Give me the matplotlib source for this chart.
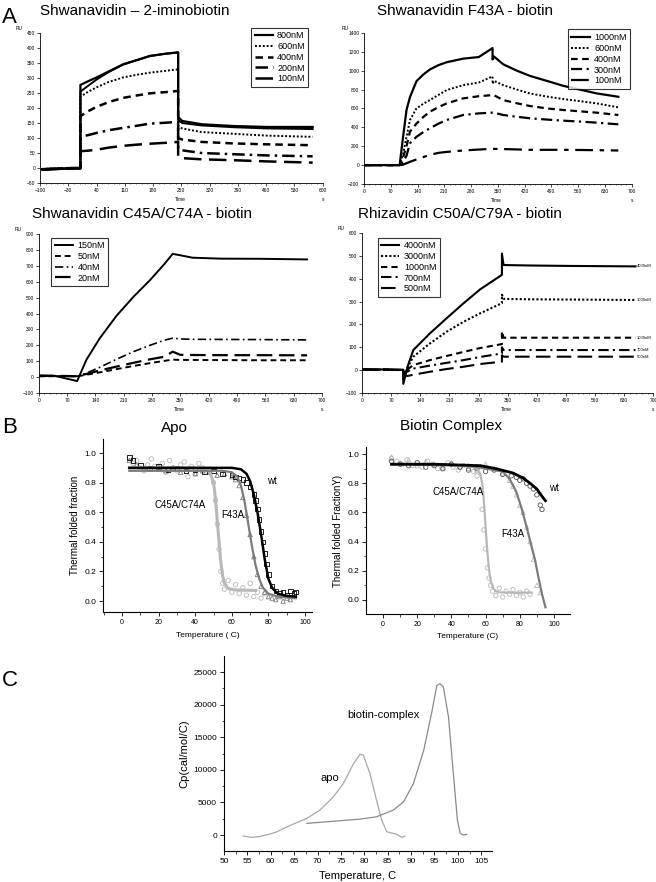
import numpy as np
import matplotlib
matplotlib.use('Agg')
import matplotlib.pyplot as plt
from matplotlib.ticker import MultipleLocator

plt.rcParams['font.family'] = ['Liberation Sans', 'DejaVu Sans']

# ---------------- A: SPR sensorgrams ----------------
a1_t = [-95, -60, -20, 0, 0, 20, 40, 70, 106, 140, 172, 210, 242, 242, 252, 300, 380, 462, 575]
a1_800 = [-4, -2, 0, 0, 277, 290, 302, 322, 346, 360, 374, 381, 386, 170, 157, 146, 140, 137, 137]
a1_800b = [-6, -4, -2, -2, 255, 275, 295, 320, 345, 360, 373, 381, 385, 160, 150, 142, 136, 132, 130]
a1_600 = [-3, -1, 0, 0, 238, 255, 269, 287, 302, 311, 318, 324, 329, 140, 132, 120, 114, 108, 104]
a1_400 = [-5, -3, -1, -1, 173, 190, 204, 220, 234, 242, 249, 253, 257, 100, 95, 87, 82, 79, 76]
a1_200 = [-4, -2, 0, 0, 104, 110, 117, 126, 134, 141, 148, 151, 154, 65, 59, 50, 46, 42, 39]
a1_100 = [-6, -3, -1, -1, 56, 58, 61, 68, 74, 78, 81, 84, 87, 36, 33, 29, 26, 22, 18]
a1_labels = ['800nM', '600nM', '400nM', '200nM', '100nM']

a2_t = [0, 60, 93, 102, 111, 120, 137, 155, 172, 195, 216, 259, 300, 336, 336, 340, 364, 400, 434, 480, 521, 570, 608, 665]
a2_1000 = [0, 0, 0, 300, 584, 720, 889, 960, 1013, 1060, 1090, 1128, 1145, 1240, 1120, 1150, 1068, 1000, 945, 890, 840, 795, 760, 724]
a2_600 = [0, 0, 0, 120, 300, 478, 601, 650, 689, 745, 795, 847, 875, 940, 860, 893, 847, 800, 759, 725, 700, 675, 654, 612]
a2_400 = [0, 0, 0, 80, 200, 355, 440, 510, 566, 615, 654, 707, 730, 742, 742, 740, 689, 655, 626, 600, 584, 568, 556, 531]
a2_300 = [0, 0, 0, 30, 100, 232, 300, 350, 390, 440, 478, 531, 548, 556, 556, 555, 531, 512, 496, 482, 471, 460, 450, 432]
a2_100 = [0, 0, 0, 5, 20, 35, 60, 85, 109, 130, 140, 155, 165, 173, 173, 172, 170, 166, 162, 162, 162, 160, 158, 155]
a2_labels = ['1000nM', '600nM', '400nM', '300nM', '100nM']

a3_t = [0, 40, 95, 118, 151, 192, 234, 275, 310, 331, 350, 380, 450, 550, 663]
a3_150 = [8, 8, -25, 110, 245, 385, 505, 610, 710, 775, 766, 751, 745, 744, 740]
a3_50 = [5, 6, 5, 15, 30, 50, 70, 88, 102, 110, 108, 108, 107, 106, 106]
a3_40 = [6, 5, 5, 25, 62, 112, 160, 200, 232, 245, 240, 238, 237, 236, 234]
a3_20 = [10, 8, 6, 20, 42, 66, 90, 112, 128, 160, 140, 139, 138, 138, 137]
a3_labels = ['150nM', '50nM', '40nM', '20nM']

a4_t = [0, 60, 99, 99, 110, 123, 163, 203, 244, 284, 336, 336, 340, 400, 500, 657]
a4_4000 = [4, 3, 2, -60, 20, 88, 161, 227, 293, 354, 417, 510, 460, 458, 456, 454]
a4_3000 = [3, 2, 1, -40, 15, 59, 117, 168, 212, 249, 293, 330, 312, 310, 309, 307]
a4_1000 = [2, 2, 0, -20, 5, 22, 44, 62, 80, 97, 114, 170, 142, 142, 142, 142]
a4_700 = [3, 2, 1, -15, -5, 7, 20, 32, 44, 58, 73, 100, 88, 88, 88, 88]
a4_500 = [2, 2, 0, -25, -25, -20, -7, 5, 15, 27, 37, 65, 59, 59, 59, 59]
a4_labels = ['4000nM', '3000nM', '1000nM', '700nM', '500nM']

# ---------------- B: thermal unfolding ----------------
b1_c45_x = [4, 6, 8, 10, 12, 14, 16, 18, 20, 22, 24, 26, 28, 30, 32, 34, 36, 38, 40, 42, 44, 46, 48, 50, 51, 52, 53, 54, 55, 56, 58, 60, 62, 64, 66, 68, 70, 72, 74, 76, 78]
b1_c45_y = [0.97, 0.93, 0.95, 0.90, 0.88, 0.92, 0.96, 0.91, 0.89, 0.93, 0.87, 0.95, 0.90, 0.88, 0.92, 0.94, 0.84, 0.91, 0.86, 0.93, 0.90, 0.88, 0.87, 0.80, 0.68, 0.52, 0.35, 0.20, 0.12, 0.08, 0.14, 0.06, 0.11, 0.05, 0.09, 0.04, 0.12, 0.03, 0.06, 0.02, 0.05]
b1_f43_x = [4, 8, 12, 16, 20, 24, 28, 32, 36, 40, 44, 48, 52, 56, 60, 62, 64, 66, 68, 70, 72, 74, 76, 78, 80, 82, 84, 86, 88, 90, 92, 94]
b1_f43_y = [0.95, 0.92, 0.90, 0.89, 0.91, 0.88, 0.90, 0.87, 0.89, 0.86, 0.88, 0.87, 0.85, 0.86, 0.84, 0.82, 0.78, 0.70, 0.58, 0.45, 0.30, 0.18, 0.10, 0.06, 0.03, 0.02, 0.01, 0.03, 0.00, 0.02, 0.01, 0.03]
b1_wt_x = [4, 6, 10, 15, 20, 25, 30, 35, 40, 45, 50, 55, 60, 62, 64, 66, 68, 70, 72, 73, 74, 75, 76, 77, 78, 79, 80, 82, 84, 86, 88, 90, 92, 94, 95]
b1_wt_y = [0.97, 0.95, 0.92, 0.90, 0.91, 0.89, 0.90, 0.88, 0.89, 0.87, 0.88, 0.86, 0.85, 0.84, 0.83, 0.82, 0.80, 0.77, 0.72, 0.68, 0.62, 0.55, 0.47, 0.40, 0.32, 0.25, 0.18, 0.10, 0.07, 0.05, 0.06, 0.04, 0.07, 0.05, 0.06]
b1_c45_fx = [4, 20, 40, 46, 48, 50, 51, 52, 53, 54, 55, 56, 58, 62, 68, 73]
b1_c45_fy = [0.9, 0.9, 0.9, 0.89, 0.87, 0.80, 0.70, 0.55, 0.40, 0.26, 0.17, 0.12, 0.085, 0.075, 0.073, 0.072]
b1_f43_fx = [4, 30, 55, 60, 63, 65, 67, 69, 71, 73, 75, 77, 80, 85, 95]
b1_f43_fy = [0.88, 0.88, 0.88, 0.87, 0.84, 0.78, 0.67, 0.52, 0.37, 0.24, 0.15, 0.09, 0.05, 0.03, 0.02]
b1_wt_fx = [4, 30, 60, 65, 68, 70, 72, 74, 76, 78, 80, 82, 85, 90, 95]
b1_wt_fy = [0.9, 0.9, 0.9, 0.89, 0.86, 0.81, 0.72, 0.60, 0.45, 0.28, 0.15, 0.09, 0.05, 0.035, 0.03]

b2_c45_x = [5, 8, 11, 14, 17, 20, 23, 26, 29, 32, 35, 38, 41, 44, 47, 50, 53, 55, 57, 58, 59, 60, 61, 62, 63, 64, 66, 68, 70, 72, 74, 76, 78, 80, 82, 84, 86]
b2_c45_y = [0.97, 0.95, 0.93, 0.96, 0.92, 0.94, 0.91, 0.95, 0.93, 0.90, 0.92, 0.94, 0.91, 0.89, 0.92, 0.90, 0.88, 0.85, 0.75, 0.62, 0.48, 0.35, 0.22, 0.15, 0.10, 0.06, 0.03, 0.08, 0.02, 0.06, 0.04, 0.07, 0.03, 0.05, 0.02, 0.06, 0.04]
b2_f43_x = [5, 10, 15, 20, 25, 30, 35, 40, 45, 50, 55, 60, 65, 70, 74, 76, 78, 80, 82, 84, 86, 88, 90, 92]
b2_f43_y = [0.98, 0.94, 0.96, 0.92, 0.95, 0.93, 0.90, 0.94, 0.91, 0.92, 0.89, 0.93, 0.90, 0.87, 0.82, 0.78, 0.72, 0.65, 0.60, 0.50, 0.40, 0.28, 0.10, 0.05]
b2_wt_x = [5, 10, 15, 20, 25, 30, 35, 40, 45, 50, 55, 60, 65, 70, 75, 78, 80, 82, 84, 86, 88, 90, 92, 93]
b2_wt_y = [0.95, 0.93, 0.92, 0.94, 0.91, 0.92, 0.90, 0.93, 0.91, 0.89, 0.90, 0.88, 0.89, 0.86, 0.85, 0.84, 0.82, 0.83, 0.80, 0.78, 0.76, 0.72, 0.65, 0.62]
b2_wt_fx = [5, 30, 57, 66, 76, 82, 86, 90, 93, 95]
b2_wt_fy = [0.93, 0.93, 0.92, 0.90, 0.87, 0.835, 0.80, 0.76, 0.71, 0.68]
b2_c45_fx = [5, 30, 50, 55, 57, 58, 59, 60, 61, 62, 63, 64.5, 66, 68, 75, 87]
b2_c45_fy = [0.93, 0.93, 0.92, 0.90, 0.86, 0.80, 0.68, 0.50, 0.33, 0.21, 0.13, 0.08, 0.06, 0.052, 0.05, 0.05]
b2_f43_fx = [5, 50, 70, 74, 78, 81, 84, 87, 89, 91, 93, 95]
b2_f43_fy = [0.93, 0.92, 0.88, 0.83, 0.74, 0.63, 0.50, 0.36, 0.27, 0.15, 0.04, -0.05]

# ---------------- C: DSC ----------------
c_apo_t = [54.1, 55.9, 57.5, 59.8, 61.3, 63, 64.8, 67.7, 70.5, 73.4, 75.5, 77.7, 79.1, 79.8, 81.2, 82.6, 83.7, 84.8, 86.2, 86.9, 88, 88.7]
c_apo_cp = [-150, -350, -250, 150, 500, 1100, 1680, 2550, 3830, 5870, 7900, 10970, 12400, 12250, 9440, 5360, 2300, 510, 250, 150, -350, -150]
c_bio_t = [67.7, 72, 79.1, 82.6, 86.2, 88.4, 90.5, 92.7, 94.5, 95.5, 96.2, 96.9, 98, 99.1, 99.9, 100.5, 101.2, 101.9]
c_bio_cp = [1790, 2040, 2450, 2800, 3830, 5100, 7900, 13000, 19100, 22960, 23200, 22700, 18100, 8900, 2300, 250, 0, 100]

LS = {'solid': '-', 'dot': (0, (1, 1)), 'dash': (0, (3, 2)), 'dashdot': (0, (5, 2, 1, 2)),
      'long': (0, (7, 3)), 'longdd': (0, (8, 3, 2, 3))}


def kin_axes(ax, xlim, ylim, xstep, ystep):
    ax.set_xlim(*xlim)
    ax.set_ylim(*ylim)
    ax.set_xticks(np.arange(xlim[0], xlim[1] + 1, xstep))
    ax.set_xticks(np.arange(xlim[0], xlim[1] + 1, xstep / 5.0), minor=True)
    ax.yaxis.set_major_locator(MultipleLocator(ystep))
    for s in ['top', 'right']:
        ax.spines[s].set_visible(False)
    for s in ['left', 'bottom']:
        ax.spines[s].set_linewidth(0.6)
    ax.tick_params(which='major', length=2, width=0.5, labelsize=3.5, pad=1.5)
    ax.tick_params(which='minor', length=1, width=0.4)
    ax.text(-0.085, 1.02, 'RU', transform=ax.transAxes, fontsize=3.5)
    ax.text(0.495, -0.09, 'Time', transform=ax.transAxes, fontsize=3.5, ha='center', va='top')
    ax.text(1.0, -0.09, 's', transform=ax.transAxes, fontsize=3.5, ha='center', va='top')


def kin_legend(ax, loc, anchor):
    leg = ax.legend(loc=loc, bbox_to_anchor=anchor, fontsize=6.5, frameon=True, fancybox=False,
                    edgecolor='black', handlelength=2.0, labelspacing=0.2, borderpad=0.4,
                    handletextpad=0.5)
    leg.get_frame().set_linewidth(0.8)


fig = plt.figure(figsize=(6.56, 8.82), dpi=100)

# A1
ax = fig.add_axes([0.061, 0.7925, 0.431, 0.170])
ax.plot(a1_t, a1_800, color='k', ls=LS['solid'], lw=1.6, label=a1_labels[0])
ax.plot(a1_t, a1_800b, color='k', ls=LS['solid'], lw=1.4)
ax.plot(a1_t, a1_600, color='k', ls=LS['dot'], lw=1.4, label=a1_labels[1])
ax.plot(a1_t, a1_400, color='k', ls=LS['dash'], lw=1.8, label=a1_labels[2])
ax.plot(a1_t, a1_200, color='k', ls=LS['dashdot'], lw=1.8, label=a1_labels[3])
ax.plot(a1_t, a1_100, color='k', ls=LS['long'], lw=1.8, label=a1_labels[4])
kin_axes(ax, (-100, 600), (-50, 450), 70, 50)
kin_legend(ax, 'upper right', (0.965, 1.067))

# A2
ax = fig.add_axes([0.555, 0.7914, 0.408, 0.1712])
ax.plot(a2_t, a2_1000, color='k', ls=LS['solid'], lw=1.6, label=a2_labels[0])
ax.plot(a2_t, a2_600, color='k', ls=LS['dot'], lw=1.4, label=a2_labels[1])
ax.plot(a2_t, a2_400, color='k', ls=LS['dash'], lw=1.6, label=a2_labels[2])
ax.plot(a2_t, a2_300, color='k', ls=LS['dashdot'], lw=1.6, label=a2_labels[3])
ax.plot(a2_t, a2_100, color='k', ls=LS['longdd'], lw=1.6, label=a2_labels[4])
kin_axes(ax, (0, 700), (-200, 1400), 70, 200)
kin_legend(ax, 'upper right', (1.011, 1.053))

# A3
ax = fig.add_axes([0.059, 0.5544, 0.432, 0.1803])
ax.plot(a3_t, a3_150, color='k', ls=LS['solid'], lw=1.4, label=a3_labels[0])
ax.plot(a3_t, a3_50, color='k', ls=LS['dash'], lw=1.4, label=a3_labels[1])
ax.plot(a3_t, a3_40, color='k', ls=LS['dashdot'], lw=1.2, label=a3_labels[2])
ax.plot(a3_t, a3_20, color='k', ls=LS['long'], lw=1.6, label=a3_labels[3])
kin_axes(ax, (0, 700), (-100, 900), 70, 100)
kin_legend(ax, 'upper left', (0.028, 1.006))

# A4
ax = fig.add_axes([0.552, 0.5544, 0.444, 0.1814])
a4_series = [a4_4000, a4_3000, a4_1000, a4_700, a4_500]
a4_styles = ['solid', 'dot', 'dash', 'dashdot', 'long']
for vals, st, lab in zip(a4_series, a4_styles, a4_labels):
    ax.plot(a4_t, vals, color='k', ls=LS[st], lw=1.5, label=lab)
    ax.text(a4_t[-1] + 4, vals[-1], lab, fontsize=3, va='center')
kin_axes(ax, (0, 700), (-100, 600), 70, 100)
kin_legend(ax, 'upper left', (0.038, 1.0))

# B
LG, MG = '#b8b8b8', '#7c7c7c'


def melt_axes(ax, xlim, ylim, ylabel, xlabel):
    ax.set_xlim(*xlim)
    ax.set_ylim(*ylim)
    ax.xaxis.set_major_locator(MultipleLocator(20))
    ax.xaxis.set_minor_locator(MultipleLocator(10))
    ax.yaxis.set_major_locator(MultipleLocator(0.2))
    ax.yaxis.set_minor_locator(MultipleLocator(0.1))
    for s in ['top', 'right']:
        ax.spines[s].set_visible(False)
    for s in ['left', 'bottom']:
        ax.spines[s].set_linewidth(0.8)
    ax.tick_params(which='major', direction='out', length=3, width=0.6, labelsize=6, pad=2)
    ax.tick_params(axis='x', labelsize=5)
    ax.tick_params(which='minor', direction='out', length=1.8, width=0.5)
    ax.set_ylabel(ylabel, fontsize=7, labelpad=3)
    ax.set_xlabel(xlabel, fontsize=6, labelpad=4)


mk = dict(facecolors='none', s=10, linewidths=0.6)

ax = fig.add_axes([0.157, 0.3061, 0.3186, 0.1962])
ax.scatter(b1_c45_x, b1_c45_y, marker='o', edgecolors=LG, **mk)
ax.scatter(b1_f43_x, b1_f43_y, marker='^', edgecolors=MG, **mk)
ax.scatter(b1_wt_x, b1_wt_y, marker='s', edgecolors='k', **mk)
ax.plot(b1_c45_fx, b1_c45_fy, color=LG, lw=2.2)
ax.plot(b1_f43_fx, b1_f43_fy, color=MG, lw=1.6)
ax.plot(b1_wt_fx, b1_wt_fy, color='k', lw=1.8)
ax.text(82, 0.81, 'wt', fontsize=7, ha='center', va='center')
ax.text(46, 0.65, 'C45A/C74A', fontsize=7, ha='right', va='center')
ax.text(54, 0.58, 'F43A', fontsize=7, ha='left', va='center')
melt_axes(ax, (-10.4, 103.8), (-0.074, 1.095), 'Thermal folded fraction', 'Temperature ( C)')

ax = fig.add_axes([0.558, 0.3039, 0.311, 0.1893])
ax.scatter(b2_c45_x, b2_c45_y, marker='o', edgecolors=LG, **mk)
ax.scatter(b2_f43_x, b2_f43_y, marker='^', edgecolors=LG, **mk)
ax.scatter(b2_wt_x, b2_wt_y, marker='o', edgecolors='#555555', **mk)
ax.plot(b2_c45_fx, b2_c45_fy, color=LG, lw=1.6)
ax.plot(b2_f43_fx, b2_f43_fy, color=MG, lw=1.6)
ax.plot(b2_wt_fx, b2_wt_fy, color='k', lw=2.0)
ax.text(100, 0.77, 'wt', fontsize=7, ha='center', va='center')
ax.text(44, 0.74, 'C45A/C74A', fontsize=7, ha='center', va='center')
ax.text(76, 0.45, 'F43A', fontsize=7, ha='center', va='center')
melt_axes(ax, (-9.9, 109.4), (-0.096, 1.048), 'Thermal folded FractionY)', 'Temperature (C)')

# C
ax = fig.add_axes([0.3415, 0.0351, 0.4085, 0.2211])
ax.plot(c_apo_t, c_apo_cp, color='#a8a8a8', lw=0.9)
ax.plot(c_bio_t, c_bio_cp, color='#8a8a8a', lw=0.9)
ax.text(72.7, 8700, 'apo', fontsize=8, ha='center', va='center')
ax.text(84.0, 18400, 'biotin-complex', fontsize=8, ha='center', va='center')
ax.set_xlim(50, 107.3)
ax.set_ylim(-2450, 27450)
ax.xaxis.set_major_locator(MultipleLocator(5))
ax.xaxis.set_minor_locator(MultipleLocator(2.5))
ax.yaxis.set_major_locator(MultipleLocator(5000))
ax.yaxis.set_minor_locator(MultipleLocator(2500))
for s in ['top', 'right']:
    ax.spines[s].set_visible(False)
for s in ['left', 'bottom']:
    ax.spines[s].set_linewidth(0.8)
ax.tick_params(which='major', direction='out', length=3, width=0.6, labelsize=6, pad=2)
ax.tick_params(which='minor', direction='out', length=1.8, width=0.5)
ax.set_xlabel('Temperature, C', fontsize=8, labelpad=4)
ax.set_ylabel('Cp(cal/mol/C)', fontsize=8, labelpad=3)

# titles and panel letters
H = 882.0
W = 656.0
fig.text(40 / W, 1 - 15 / H, 'Shwanavidin \u2013 2-iminobiotin', fontsize=11, va='baseline')
fig.text(377 / W, 1 - 15 / H, 'Shwanavidin F43A - biotin', fontsize=11, va='baseline')
fig.text(32 / W, 1 - 218 / H, 'Shwanavidin C45A/C74A - biotin', fontsize=11, va='baseline')
fig.text(358 / W, 1 - 218 / H, 'Rhizavidin C50A/C79A - biotin', fontsize=11, va='baseline')
fig.text(174 / W, 1 - 432 / H, 'Apo', fontsize=11, va='baseline', ha='center')
fig.text(451 / W, 1 - 430 / H, 'Biotin Complex', fontsize=11, va='baseline', ha='center')
fig.text(2 / W, 1 - 23 / H, 'A', fontsize=16, va='baseline')
fig.text(2 / W, 1 - 433 / H, 'B', fontsize=16, va='baseline')
fig.text(2 / W, 1 - 686 / H, 'C', fontsize=16, va='baseline')

fig.savefig('out.png', dpi=100)
